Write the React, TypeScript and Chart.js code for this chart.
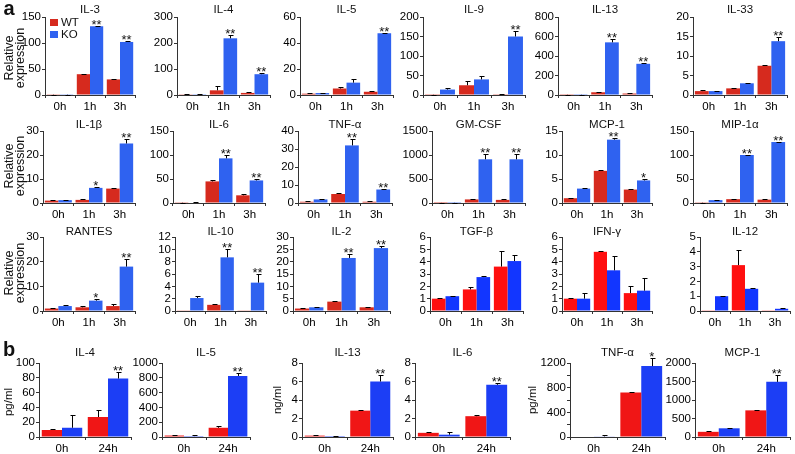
import React, { useEffect, useRef } from 'react';
import { Chart, registerables } from 'chart.js';
Chart.register(...registerables);

const FONT = '"Liberation Sans", Arial, Helvetica, sans-serif';
const AX = '#333';

// ---------- data ----------
const CAT_A = ['0h', '1h', '3h'];
const CAT_B = ['0h', '24h'];

const IL3_WT = [0.5, 40, 30]; const IL3_WT_E = [0.3, 1, 1];
const IL3_KO = [0.5, 132, 102]; const IL3_KO_E = [0.3, 1, 1]; const IL3_SIG = ['', '**', '**'];
const IL4_WT = [1, 18, 8]; const IL4_WT_E = [1, 15, 4];
const IL4_KO = [3, 218, 80]; const IL4_KO_E = [2, 12, 4]; const IL4_SIG = ['', '**', '**'];
const IL5_WT = [1, 5, 2.5]; const IL5_WT_E = [0.5, 1, 0.5];
const IL5_KO = [1.5, 9.5, 47.5]; const IL5_KO_E = [0.3, 2.5, 0.5]; const IL5_SIG = ['', '', '**'];
const IL9_WT = [0.5, 25, 2]; const IL9_WT_E = [0.5, 10, 1];
const IL9_KO = [14, 40, 150]; const IL9_KO_E = [5, 8, 15]; const IL9_SIG = ['', '', '**'];
const IL13_WT = [2, 28, 15]; const IL13_WT_E = [1, 5, 3];
const IL13_KO = [2, 540, 320]; const IL13_KO_E = [1, 35, 10]; const IL13_SIG = ['', '**', '**'];
const IL33_WT = [1, 1.7, 7.5]; const IL33_WT_E = [0.2, 0.1, 0.3];
const IL33_KO = [1, 3, 13.8]; const IL33_KO_E = [0.1, 0.2, 1]; const IL33_SIG = ['', '', '**'];

const IL1B_WT = [1, 1.3, 6]; const IL1B_WT_E = [0.2, 0.2, 0.2];
const IL1B_KO = [1.2, 6.3, 24.8]; const IL1B_KO_E = [0.1, 0.5, 2]; const IL1B_SIG = ['', '*', '**'];
const IL6_WT = [0.5, 45, 16]; const IL6_WT_E = [0.3, 2, 2];
const IL6_KO = [1, 93, 47]; const IL6_KO_E = [0.5, 7, 4]; const IL6_SIG = ['', '**', '**'];
const TNF_WT = [0.7, 5, 0.7]; const TNF_WT_E = [0.2, 0.4, 0.2];
const TNF_KO = [2, 32, 7.5]; const TNF_KO_E = [0.2, 3.5, 0.5]; const TNF_SIG = ['', '**', '**'];
const GM_WT = [2, 75, 65]; const GM_WT_E = [1, 10, 10];
const GM_KO = [3, 910, 910]; const GM_KO_E = [1, 110, 110]; const GM_SIG = ['', '**', '**'];
const MCP_WT = [1, 6.7, 2.8]; const MCP_WT_E = [0.1, 0.2, 0.1];
const MCP_KO = [3, 13.2, 4.7]; const MCP_KO_E = [0.2, 0.4, 0.3]; const MCP_SIG = ['', '**', '*'];
const MIP_WT = [0.5, 8, 7]; const MIP_WT_E = [0.3, 1, 1];
const MIP_KO = [6, 100, 127]; const MIP_KO_E = [1, 1, 1]; const MIP_SIG = ['', '**', '**'];

const RAN_WT = [1, 1.5, 2]; const RAN_WT_E = [0.2, 0.5, 0.8];
const RAN_KO = [2, 4.2, 18]; const RAN_KO_E = [0.5, 0.5, 3]; const RAN_SIG = ['', '*', '**'];
const IL10_WT = [0.05, 1, 0.05]; const IL10_WT_E = [0, 0.2, 0];
const IL10_KO = [2.1, 8.7, 4.6]; const IL10_KO_E = [0.3, 1.3, 1.4]; const IL10_SIG = ['', '**', '**'];
const IL2_WT = [1, 3.8, 1.5]; const IL2_WT_E = [0.2, 0.3, 0.3];
const IL2_KO = [1.5, 21.5, 25.5]; const IL2_KO_E = [0.2, 1.5, 1]; const IL2_SIG = ['', '**', '**'];
const TGF_WT = [1, 1.75, 3.6]; const TGF_WT_E = [0.05, 0.2, 1.3];
const TGF_KO = [1.2, 2.75, 4.05]; const TGF_KO_E = [0.02, 0.05, 0.5]; const TGF_SIG = ['', '', ''];
const IFN_WT = [1, 4.8, 1.45]; const IFN_WT_E = [0.05, 0.1, 0.6];
const IFN_KO = [1, 3.3, 1.65]; const IFN_KO_E = [0.5, 1.15, 1.05]; const IFN_SIG = ['', '', ''];
const IL12_WT = [0.02, 3.1, 0.02]; const IL12_WT_E = [0, 1, 0];
const IL12_KO = [1, 1.5, 0.15]; const IL12_KO_E = [0.03, 0.03, 0.03]; const IL12_SIG = ['', '', ''];

const B_IL4_WT = [9.5, 27]; const B_IL4_WT_E = [1, 9];
const B_IL4_KO = [12.5, 79]; const B_IL4_KO_E = [17, 9]; const B_IL4_SIG = ['', '**'];
const B_IL5_WT = [20, 125]; const B_IL5_WT_E = [5, 20];
const B_IL5_KO = [12, 825]; const B_IL5_KO_E = [10, 40]; const B_IL5_SIG = ['', '**'];
const B_IL13_WT = [0.15, 2.85]; const B_IL13_WT_E = [0.03, 0.1];
const B_IL13_KO = [0.1, 6]; const B_IL13_KO_E = [0.05, 0.65]; const B_IL13_SIG = ['', '**'];
const B_IL6_WT = [0.45, 2.25]; const B_IL6_WT_E = [0.05, 0.1];
const B_IL6_KO = [0.25, 5.65]; const B_IL6_KO_E = [0.25, 0.2]; const B_IL6_SIG = ['', '**'];
const B_TNF_WT = [0, 720]; const B_TNF_WT_E = [0, 10];
const B_TNF_KO = [10, 1150]; const B_TNF_KO_E = [15, 130]; const B_TNF_SIG = ['', '*'];
const B_MCP_WT = [140, 720]; const B_MCP_WT_E = [15, 10];
const B_MCP_KO = [235, 1490]; const B_MCP_KO_E = [20, 190]; const B_MCP_SIG = ['', '**'];

// ---------- styles ----------
const C1 = { red: '#d62a1e', blue: '#2f62f0' };
const C2 = { red: '#ff0f0f', blue: '#1236ff' };
const C3 = { red: '#f01616', blue: '#1c3ef5' };

type P = {
  title: string; cats: string[]; wt: number[]; wtE: number[]; ko: number[]; koE: number[]; sig: string[];
  max: number; step: number; every?: number;
  x0: number; x1: number; y0: number; y1: number; titleY: number; col: { red: string; blue: string };
};

const R1 = { y0: 17, y1: 95, titleY: 10 };
const R2 = { y0: 131, y1: 203, titleY: 125 };
const R3 = { y0: 237, y1: 311, titleY: 232 };
const R4 = { y0: 363, y1: 437, titleY: 353 };

const PANELS: P[] = [
  { title: 'IL-3', cats: CAT_A, wt: IL3_WT, wtE: IL3_WT_E, ko: IL3_KO, koE: IL3_KO_E, sig: IL3_SIG, max: 150, step: 50, x0: 45, x1: 135, ...R1, col: C1 },
  { title: 'IL-4', cats: CAT_A, wt: IL4_WT, wtE: IL4_WT_E, ko: IL4_KO, koE: IL4_KO_E, sig: IL4_SIG, max: 300, step: 100, x0: 177, x1: 270, ...R1, col: C1 },
  { title: 'IL-5', cats: CAT_A, wt: IL5_WT, wtE: IL5_WT_E, ko: IL5_KO, koE: IL5_KO_E, sig: IL5_SIG, max: 60, step: 20, x0: 300, x1: 393, ...R1, col: C1 },
  { title: 'IL-9', cats: CAT_A, wt: IL9_WT, wtE: IL9_WT_E, ko: IL9_KO, koE: IL9_KO_E, sig: IL9_SIG, max: 200, step: 50, x0: 423, x1: 525, ...R1, col: C1 },
  { title: 'IL-13', cats: CAT_A, wt: IL13_WT, wtE: IL13_WT_E, ko: IL13_KO, koE: IL13_KO_E, sig: IL13_SIG, max: 800, step: 200, x0: 558, x1: 652, ...R1, col: C1 },
  { title: 'IL-33', cats: CAT_A, wt: IL33_WT, wtE: IL33_WT_E, ko: IL33_KO, koE: IL33_KO_E, sig: IL33_SIG, max: 20, step: 5, x0: 693, x1: 787, ...R1, col: C1 },

  { title: 'IL-1β', cats: CAT_A, wt: IL1B_WT, wtE: IL1B_WT_E, ko: IL1B_KO, koE: IL1B_KO_E, sig: IL1B_SIG, max: 30, step: 10, x0: 43, x1: 135, ...R2, col: C1 },
  { title: 'IL-6', cats: CAT_A, wt: IL6_WT, wtE: IL6_WT_E, ko: IL6_KO, koE: IL6_KO_E, sig: IL6_SIG, max: 150, step: 50, x0: 173, x1: 265, ...R2, col: C1 },
  { title: 'TNF-α', cats: CAT_A, wt: TNF_WT, wtE: TNF_WT_E, ko: TNF_KO, koE: TNF_KO_E, sig: TNF_SIG, max: 40, step: 10, x0: 298, x1: 392, ...R2, col: C1 },
  { title: 'GM-CSF', cats: CAT_A, wt: GM_WT, wtE: GM_WT_E, ko: GM_KO, koE: GM_KO_E, sig: GM_SIG, max: 1500, step: 500, x0: 432, x1: 525, ...R2, col: C1 },
  { title: 'MCP-1', cats: CAT_A, wt: MCP_WT, wtE: MCP_WT_E, ko: MCP_KO, koE: MCP_KO_E, sig: MCP_SIG, max: 15, step: 5, x0: 562, x1: 652, ...R2, col: C1 },
  { title: 'MIP-1α', cats: CAT_A, wt: MIP_WT, wtE: MIP_WT_E, ko: MIP_KO, koE: MIP_KO_E, sig: MIP_SIG, max: 150, step: 50, x0: 693, x1: 787, ...R2, col: C1 },

  { title: 'RANTES', cats: CAT_A, wt: RAN_WT, wtE: RAN_WT_E, ko: RAN_KO, koE: RAN_KO_E, sig: RAN_SIG, max: 30, step: 10, x0: 43, x1: 135, ...R3, col: C1 },
  { title: 'IL-10', cats: CAT_A, wt: IL10_WT, wtE: IL10_WT_E, ko: IL10_KO, koE: IL10_KO_E, sig: IL10_SIG, max: 12, step: 2, x0: 175, x1: 266, ...R3, col: C1 },
  { title: 'IL-2', cats: CAT_A, wt: IL2_WT, wtE: IL2_WT_E, ko: IL2_KO, koE: IL2_KO_E, sig: IL2_SIG, max: 30, step: 5, x0: 293, x1: 390, ...R3, col: C1 },
  { title: 'TGF-β', cats: CAT_A, wt: TGF_WT, wtE: TGF_WT_E, ko: TGF_KO, koE: TGF_KO_E, sig: TGF_SIG, max: 6, step: 1, x0: 430, x1: 523, ...R3, col: C2 },
  { title: 'IFN-γ', cats: CAT_A, wt: IFN_WT, wtE: IFN_WT_E, ko: IFN_KO, koE: IFN_KO_E, sig: IFN_SIG, max: 6, step: 1, x0: 562, x1: 652, ...R3, col: C2 },
  { title: 'IL-12', cats: CAT_A, wt: IL12_WT, wtE: IL12_WT_E, ko: IL12_KO, koE: IL12_KO_E, sig: IL12_SIG, max: 5, step: 1, x0: 700, x1: 790, ...R3, col: C2 },

  { title: 'IL-4', cats: CAT_B, wt: B_IL4_WT, wtE: B_IL4_WT_E, ko: B_IL4_KO, koE: B_IL4_KO_E, sig: B_IL4_SIG, max: 100, step: 20, x0: 39, x1: 131, ...R4, col: C3 },
  { title: 'IL-5', cats: CAT_B, wt: B_IL5_WT, wtE: B_IL5_WT_E, ko: B_IL5_KO, koE: B_IL5_KO_E, sig: B_IL5_SIG, max: 1000, step: 200, x0: 162, x1: 250, ...R4, col: C3 },
  { title: 'IL-13', cats: CAT_B, wt: B_IL13_WT, wtE: B_IL13_WT_E, ko: B_IL13_KO, koE: B_IL13_KO_E, sig: B_IL13_SIG, max: 8, step: 2, x0: 302, x1: 393, ...R4, col: C3 },
  { title: 'IL-6', cats: CAT_B, wt: B_IL6_WT, wtE: B_IL6_WT_E, ko: B_IL6_KO, koE: B_IL6_KO_E, sig: B_IL6_SIG, max: 8, step: 2, x0: 415, x1: 510, ...R4, col: C3 },
  { title: 'TNF-α', cats: CAT_B, wt: B_TNF_WT, wtE: B_TNF_WT_E, ko: B_TNF_KO, koE: B_TNF_KO_E, sig: B_TNF_SIG, max: 1200, step: 200, every: 400, x0: 570, x1: 665, ...R4, col: C3 },
  { title: 'MCP-1', cats: CAT_B, wt: B_MCP_WT, wtE: B_MCP_WT_E, ko: B_MCP_KO, koE: B_MCP_KO_E, sig: B_MCP_SIG, max: 2000, step: 500, x0: 695, x1: 790, ...R4, col: C3 },
];

const L = 40, T = 18, RR = 4, B = 20;

function Panel({ p }: { p: P }) {
  const ref = useRef<HTMLCanvasElement>(null);
  const W = p.x1 - p.x0 + L + RR;
  const H = p.y1 - p.y0 + T + B;
  useEffect(() => {
    const extra = {
      id: 'extras',
      afterDatasetsDraw(chart: any) {
        const ctx = chart.ctx as CanvasRenderingContext2D;
        const ys = chart.scales.y;
        const errs = [p.wtE, p.koE];
        const vals = [p.wt, p.ko];
        ctx.save();
        ctx.strokeStyle = '#000';
        ctx.lineWidth = 1;
        for (let d = 0; d < 2; d++) {
          const meta = chart.getDatasetMeta(d);
          meta.data.forEach((bar: any, i: number) => {
            const e = errs[d][i];
            if (!e) return;
            const yv = ys.getPixelForValue(vals[d][i]);
            const yt = Math.round(ys.getPixelForValue(vals[d][i] + e)) + 0.5;
            const x = Math.round(bar.x) + 0.5;
            ctx.beginPath();
            ctx.moveTo(x, yv);
            ctx.lineTo(x, yt);
            ctx.moveTo(x - 2, yt);
            ctx.lineTo(x + 3, yt);
            ctx.stroke();
          });
        }
        // significance stars
        ctx.fillStyle = '#111';
        ctx.font = `13px ${FONT}`;
        ctx.textAlign = 'center';
        ctx.textBaseline = 'alphabetic';
        const mk = chart.getDatasetMeta(1);
        p.sig.forEach((s, i) => {
          if (!s) return;
          const yt = ys.getPixelForValue(p.ko[i] + p.koE[i]);
          ctx.fillText(s, mk.data[i].x, yt + 3);
        });
        // title
        const ca = chart.chartArea;
        ctx.font = `11.5px ${FONT}`;
        ctx.textBaseline = 'middle';
        ctx.fillText(p.title, (ca.left + ca.right) / 2, p.titleY - (p.y0 - T));
        ctx.restore();
      },
    };
    const tickVals: number[] = [];
    for (let v = 0; v <= p.max + 1e-9; v += p.step) tickVals.push(Math.round(v * 1000) / 1000);
    const chart = new Chart(ref.current!, {
      type: 'bar',
      data: {
        labels: p.cats,
        datasets: [
          { label: 'WT', data: p.wt, backgroundColor: p.col.red },
          { label: 'KO', data: p.ko, backgroundColor: p.col.blue },
        ],
      },
      options: {
        responsive: false,
        animation: false,
        layout: { padding: { left: 0, top: T, right: RR, bottom: 0 } },
        plugins: { legend: { display: false }, tooltip: { enabled: false }, title: { display: false } },
        datasets: { bar: { categoryPercentage: 0.88, barPercentage: 1 } },
        scales: {
          x: {
            grid: { display: true, drawOnChartArea: false, drawTicks: true, tickLength: 3, color: AX, offset: true },
            border: { display: true, color: AX, width: 1 },
            ticks: { color: '#000', font: { family: FONT, size: 11.5 }, padding: 2, maxRotation: 0, autoSkip: false },
            afterFit: (s: any) => { s.height = B; },
          },
          y: {
            min: 0,
            max: p.max,
            grid: { display: true, drawOnChartArea: false, drawTicks: true, tickLength: 3, color: AX },
            border: { display: true, color: AX, width: 1 },
            ticks: {
              autoSkip: false,
              color: '#000',
              font: { family: FONT, size: 11.5 },
              padding: 1,
              callback: (v: any) => (p.every && Number(v) % p.every !== 0 ? '' : String(v)),
            },
            afterBuildTicks: (s: any) => { s.ticks = tickVals.map((v) => ({ value: v })); },
            afterFit: (s: any) => { s.width = L; },
          },
        },
      } as any,
      plugins: [extra],
    });
    return () => chart.destroy();
  }, []);
  return (
    <canvas
      ref={ref}
      width={W}
      height={H}
      style={{ position: 'absolute', left: p.x0 - L, top: p.y0 - T, width: W, height: H }}
    />
  );
}

function Txt({ x, y, children, size = 11, bold = false, rot = false, lh }: any) {
  return (
    <div
      style={{
        position: 'absolute', left: x, top: y, fontFamily: FONT, fontSize: size, fontWeight: bold ? 'bold' : 'normal',
        color: '#111', whiteSpace: 'nowrap', textAlign: 'center', lineHeight: lh ? `${lh}px` : 1,
        transform: `translate(-50%, -50%)${rot ? ' rotate(-90deg)' : ''}`,
      }}
    >
      {children}
    </div>
  );
}

export default function App() {
  return (
    <div style={{ position: 'absolute', left: 0, top: 0, width: 795, height: 454, background: '#fff', overflow: 'hidden' }}>
      {PANELS.map((p, i) => <Panel key={i} p={p} />)}
      <Txt x={9} y={8} size={20} bold>a</Txt>
      <Txt x={9} y={349} size={20} bold>b</Txt>
      <Txt x={15} y={58} size={12.5} rot lh={11}>Relative<br />expression</Txt>
      <Txt x={15} y={166} size={12.5} rot lh={11}>Relative<br />expression</Txt>
      <Txt x={15} y={273} size={12.5} rot lh={11}>Relative<br />expression</Txt>
      <Txt x={9} y={402} size={11.5} rot>pg/ml</Txt>
      <Txt x={278} y={400} size={11.5} rot>ng/ml</Txt>
      <Txt x={533} y={400} size={11.5} rot>pg/ml</Txt>
      <div style={{ position: 'absolute', left: 50, top: 19, width: 8, height: 7, background: C1.red }} />
      <div style={{ position: 'absolute', left: 50, top: 31, width: 8, height: 7, background: C1.blue }} />
      <div style={{ position: 'absolute', left: 61, top: 16, fontFamily: FONT, fontSize: 11.5, lineHeight: '13px', color: '#111' }}>WT</div>
      <div style={{ position: 'absolute', left: 61, top: 28, fontFamily: FONT, fontSize: 11.5, lineHeight: '13px', color: '#111' }}>KO</div>
    </div>
  );
}
